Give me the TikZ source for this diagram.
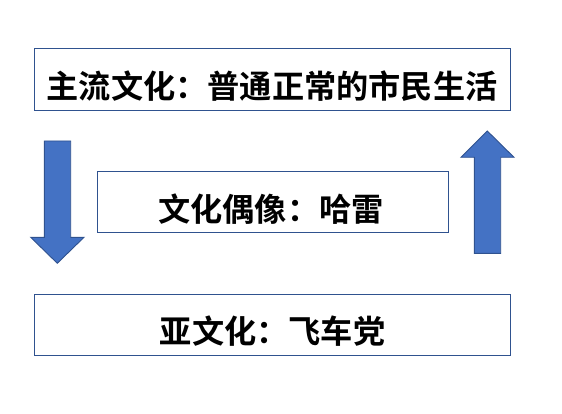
\documentclass[tikz,border=0pt]{standalone}
\usepackage{fontspec}
\newfontfamily\cjk{Noto Sans CJK SC Bold}
\definecolor{boxline}{HTML}{2F528F}
\definecolor{arrfill}{HTML}{4472C4}
\begin{document}
\begin{tikzpicture}[x=1pt,y=-1pt,
  frame/.style={draw=boxline,line width=1pt},
  label/.style={font=\cjk\fontsize{32.2}{36}\selectfont,text=black,inner sep=0pt},
  blockarrow/.style={draw=boxline,fill=arrfill,line width=0.9pt,line join=miter}]
\useasboundingbox (0,0) rectangle (562,414);
% boxes
\draw[frame] (34.5,48.5) rectangle (510,111);
\draw[frame] (97,172) rectangle (448.5,232.5);
\draw[frame] (34.5,294.5) rectangle (510,355);
% texts
\node[label] (top) at (272,86) {主流文化：普通正常的市民生活};
\node[label] (mid) at (271,209) {文化偶像：哈雷};
\node[label] (bot) at (272.5,331) {亚文化：飞车党};
% down arrow
\draw[blockarrow] (44.3,141) -- (70.7,141) -- (70.7,237.3) -- (84,237.3) -- (57.3,263.3) -- (30.7,237.3) -- (44.3,237.3) -- cycle;
% up arrow
\draw[blockarrow] (474.3,253.3) -- (500.7,253.3) -- (500.7,157.3) -- (514,157.3) -- (487.3,131) -- (461,157.3) -- (474.3,157.3) -- cycle;
\end{tikzpicture}
\end{document}
